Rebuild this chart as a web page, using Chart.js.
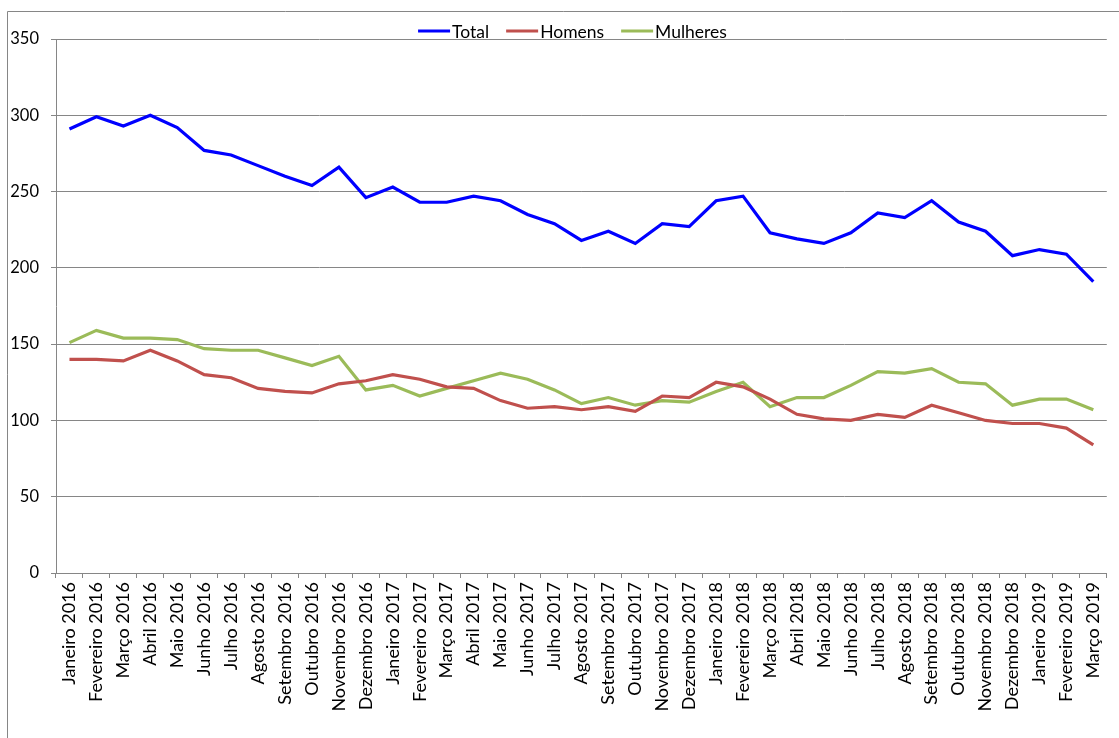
<!DOCTYPE html>
<html>
<head>
<meta charset="utf-8">
<script src="https://cdn.jsdelivr.net/npm/chart.js@4/dist/chart.umd.min.js"></script>
<style>
  html, body { margin: 0; padding: 0; background: #ffffff; }
  #wrap { width: 1119px; height: 738px; position: relative; }
</style>
</head>
<body>
<div id="wrap"><canvas id="chart" width="1119" height="738"></canvas></div>
<script>
const months = [
  'Janeiro 2016', 'Fevereiro 2016', 'Março 2016', 'Abril 2016', 'Maio 2016', 'Junho 2016',
  'Julho 2016', 'Agosto 2016', 'Setembro 2016', 'Outubro 2016', 'Novembro 2016', 'Dezembro 2016',
  'Janeiro 2017', 'Fevereiro 2017', 'Março 2017', 'Abril 2017', 'Maio 2017', 'Junho 2017',
  'Julho 2017', 'Agosto 2017', 'Setembro 2017', 'Outubro 2017', 'Novembro 2017', 'Dezembro 2017',
  'Janeiro 2018', 'Fevereiro 2018', 'Março 2018', 'Abril 2018', 'Maio 2018', 'Junho 2018',
  'Julho 2018', 'Agosto 2018', 'Setembro 2018', 'Outubro 2018', 'Novembro 2018', 'Dezembro 2018',
  'Janeiro 2019', 'Fevereiro 2019', 'Março 2019'
];

const total = [
  291, 299, 293, 300, 292, 277, 274, 267, 260, 254, 266, 246,
  253, 243, 243, 247, 244, 235, 229, 218, 224, 216, 229, 227,
  244, 247, 223, 219, 216, 223, 236, 233, 244, 230, 224, 208,
  212, 209, 191
];

const homens = [
  140, 140, 139, 146, 139, 130, 128, 121, 119, 118, 124, 126,
  130, 127, 122, 121, 113, 108, 109, 107, 109, 106, 116, 115,
  125, 122, 114, 104, 101, 100, 104, 102, 110, 105, 100, 98,
  98, 95, 84
];

const mulheres = [
  151, 159, 154, 154, 153, 147, 146, 146, 141, 136, 142, 120,
  123, 116, 121, 126, 131, 127, 120, 111, 115, 110, 113, 112,
  119, 125, 109, 115, 115, 123, 132, 131, 134, 125, 124, 110,
  114, 114, 107
];

const yTicks = [0, 50, 100, 150, 200, 250, 300, 350];

const FONT = 'Lato, "Open Sans", sans-serif';
const GRID = '#868686';

// Outer frame and the legend row above the plot
const framePlugin = {
  id: 'frame',
  beforeDraw(chart) {
    const ctx = chart.ctx;
    ctx.save();
    ctx.fillStyle = '#ffffff';
    ctx.fillRect(0, 0, chart.width, chart.height);
    ctx.strokeStyle = GRID;
    ctx.lineWidth = 1;
    ctx.beginPath();
    ctx.moveTo(7.5, chart.height);
    ctx.lineTo(7.5, 11.5);
    ctx.lineTo(chart.width, 11.5);
    ctx.stroke();
    ctx.restore();
  },
  afterDraw(chart) {
    const ctx = chart.ctx;
    const sets = chart.data.datasets;
    ctx.save();
    ctx.font = '17.5px ' + FONT;
    ctx.textBaseline = 'middle';
    const lineW = 32, gap = 2, itemGap = 17;
    const widths = sets.map(d => lineW + gap + ctx.measureText(d.label).width);
    const full = widths.reduce((a, b) => a + b, 0) + itemGap * (sets.length - 1);
    let x = 572.5 - full / 2;
    const y = 31;
    sets.forEach((d, i) => {
      ctx.strokeStyle = d.borderColor;
      ctx.lineWidth = 3;
      ctx.beginPath();
      ctx.moveTo(x, y);
      ctx.lineTo(x + lineW, y);
      ctx.stroke();
      ctx.fillStyle = '#000000';
      ctx.fillText(d.label, x + lineW + gap, y + 1);
      x += widths[i] + itemGap;
    });
    ctx.restore();
  }
};

new Chart(document.getElementById('chart'), {
  type: 'line',
  data: {
    labels: months,
    datasets: [
      { label: 'Total', data: total, borderColor: '#0000FF', backgroundColor: '#0000FF' },
      { label: 'Homens', data: homens, borderColor: '#C0504D', backgroundColor: '#C0504D' },
      { label: 'Mulheres', data: mulheres, borderColor: '#9BBB59', backgroundColor: '#9BBB59' }
    ]
  },
  options: {
    responsive: false,
    animation: false,
    devicePixelRatio: 1,
    layout: { padding: { left: 0, right: 6, top: 39, bottom: 0 } },
    elements: {
      line: { borderWidth: 3.2, tension: 0, borderCapStyle: 'butt', borderJoinStyle: 'miter' },
      point: { radius: 0, hoverRadius: 0 }
    },
    plugins: {
      legend: { display: false },
      tooltip: { enabled: false }
    },
    scales: {
      x: {
        type: 'category',
        offset: true,
        grid: {
          offset: true,
          drawOnChartArea: false,
          drawTicks: true,
          tickLength: 5,
          color: GRID
        },
        border: { display: true, color: GRID, width: 1 },
        ticks: {
          autoSkip: false,
          minRotation: 90,
          maxRotation: 90,
          padding: 4,
          color: '#000000',
          font: { family: FONT, size: 18 }
        },
        afterFit(scale) { scale.height = 165; }
      },
      y: {
        min: 0,
        max: 350,
        afterBuildTicks(scale) { scale.ticks = yTicks.map(v => ({ value: v })); },
        grid: { color: GRID, lineWidth: 1, tickLength: 5, drawTicks: true },
        border: { display: true, color: GRID, width: 1 },
        ticks: {
          padding: 12,
          color: '#000000',
          font: { family: FONT, size: 16.5 }
        },
        afterFit(scale) { scale.width = 56; }
      }
    }
  },
  plugins: [framePlugin]
});
</script>
</body>
</html>
